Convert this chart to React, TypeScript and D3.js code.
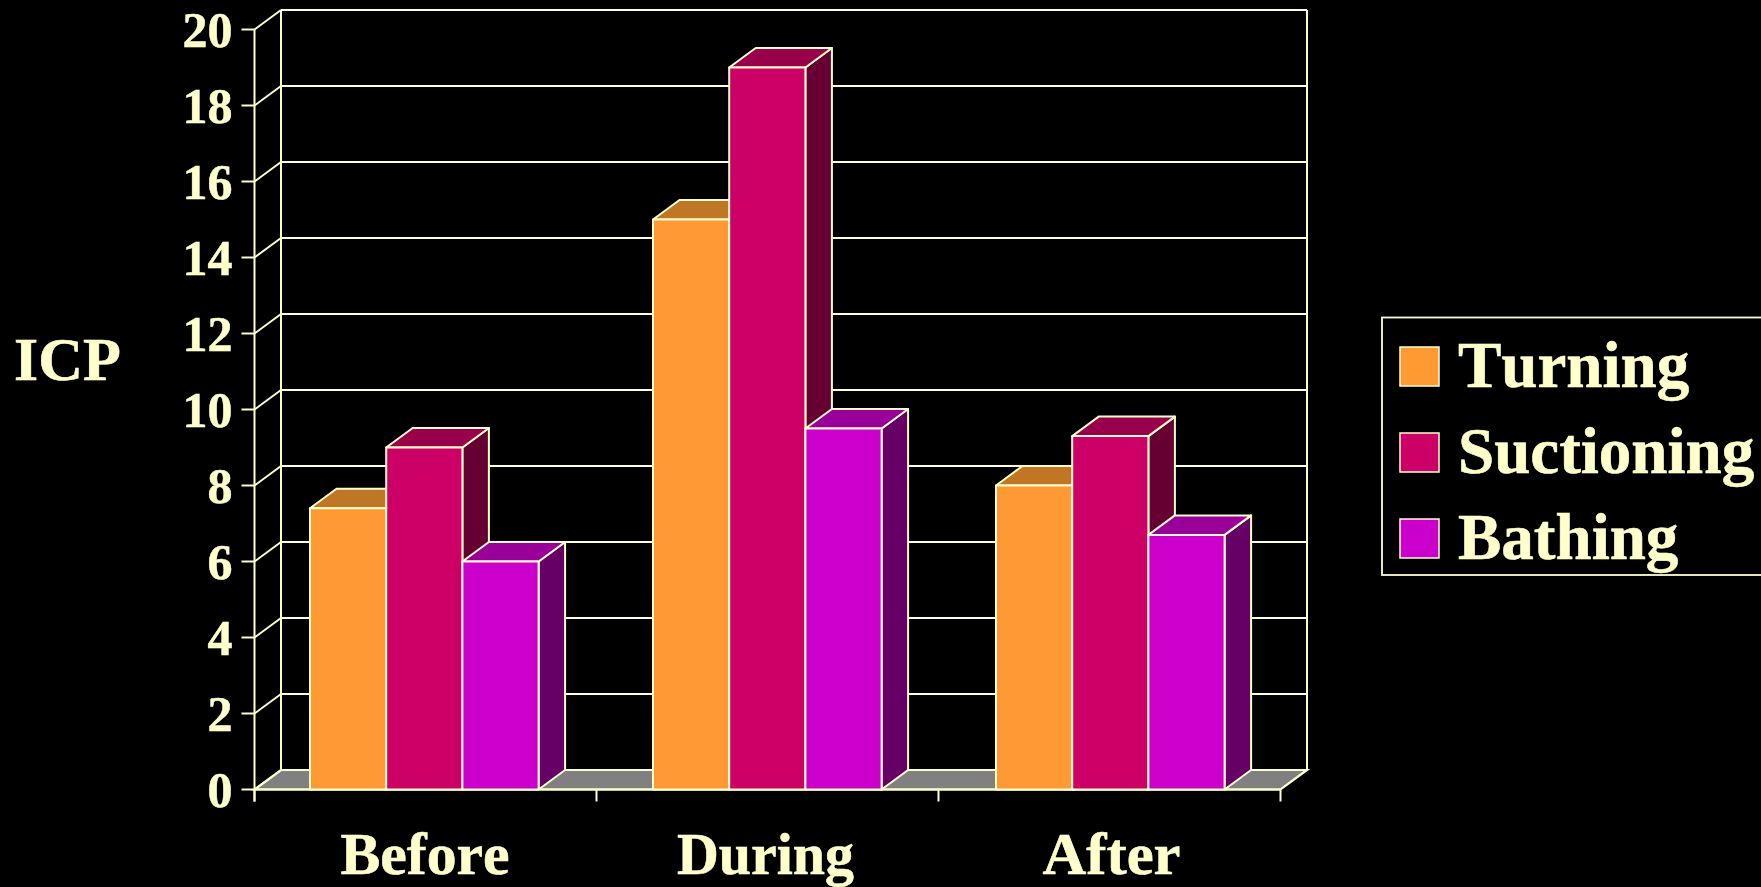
import React from "react";
import * as d3 from "d3";

const categories = ["Before", "During", "After"];
const seriesNames = ["Turning", "Suctioning", "Bathing"];
const turning = [7.4, 15, 8];
const suctioning = [9, 19, 9.3];
const bathing = [6, 9.5, 6.7];
const yTicks = [0, 2, 4, 6, 8, 10, 12, 14, 16, 18, 20];

const seriesValues = [turning, suctioning, bathing];
const frontColors = ["#FF9933", "#CC0066", "#CC00CC"];
const topColors = ["#BF7726", "#99004C", "#990099"];
const sideColors = ["#7F4C19", "#660033", "#660066"];

// Fitted widths and small horizontal nudges for the category captions
const captionWidths = [169, 177, 138];
const captionNudges = [-0.5, -2, 2];

const INK = "#FFFFCC";
const FONT = "'Liberation Serif', 'Times New Roman', serif";
const DEPTH_X = 26.5;
const DEPTH_Y = -19.5;

const left = 254.5;
const right = 1280.5;
const y = d3.scaleLinear().domain([0, 20]).range([789.5, 29.5]);
// Axis ticks divide the floor evenly; bar groups step very slightly wider
const xAxis = d3.scaleBand<string>().domain(categories).range([left, right]);
const xGroups = d3.scaleBand<string>().domain(categories).range([left, left + 343 * 3]);
const xBars = d3.scaleBand<number>().domain([0, 1, 2]).range([55.5, 55.5 + 228.6]);

const poly = (pts: [number, number][]) => (d3.line()(pts) ?? "") + "Z";

const textStyle: React.CSSProperties = { fontKerning: "none" };

export default function App() {
  const base = y(0);
  const top = y(20);
  const bw = xBars.bandwidth();
  return (
    <svg
      width={1761}
      height={887}
      viewBox="0 0 1761 887"
      style={{ position: "fixed", left: 0, top: 0, background: "#000", display: "block" }}
      fontFamily={FONT}
      fontWeight="bold"
    >
      <rect width={1761} height={887} fill="#000" />

      {/* Floor of the 3D box */}
      <path
        d={poly([
          [left, base],
          [right, base],
          [right + DEPTH_X, base + DEPTH_Y],
          [left + DEPTH_X, base + DEPTH_Y],
        ])}
        fill="#808080"
        stroke={INK}
        strokeWidth={2.2}
      />

      {/* Back wall outline and gridlines with their side-wall connectors */}
      <line x1={left} x2={left} y1={top} y2={base + 12} stroke={INK} strokeWidth={2} />
      <line x1={left + DEPTH_X} x2={left + DEPTH_X} y1={top + DEPTH_Y} y2={base + DEPTH_Y} stroke={INK} strokeWidth={2} />
      <line x1={right + DEPTH_X} x2={right + DEPTH_X} y1={top + DEPTH_Y} y2={base + DEPTH_Y} stroke={INK} strokeWidth={2} />
      {yTicks.map((t) => (
        <g key={t} stroke={INK} strokeWidth={2} fill="none">
          <line x1={left - 13} x2={left} y1={y(t)} y2={y(t)} />
          <line x1={left} x2={left + DEPTH_X} y1={y(t)} y2={y(t) + DEPTH_Y} />
          <line x1={left + DEPTH_X} x2={right + DEPTH_X} y1={y(t) + DEPTH_Y} y2={y(t) + DEPTH_Y} />
        </g>
      ))}

      {/* Category axis with ticks between the groups */}
      <line x1={left} x2={right} y1={base} y2={base} stroke={INK} strokeWidth={2.2} />
      {[...categories.map((c) => xAxis(c) as number), right].map((px, i) => (
        <line key={i} x1={px} x2={px} y1={base} y2={base + 12} stroke={INK} strokeWidth={2} />
      ))}

      {/* Bars, painted left to right so each one overlaps the previous */}
      {categories.map((c, ci) =>
        seriesValues.map((vals, si) => {
          const bx = (xGroups(c) as number) + (xBars(si) as number);
          const ty = y(vals[ci]);
          return (
            <g key={c + si} stroke={INK} strokeWidth={2} strokeLinejoin="round">
              <path
                d={poly([
                  [bx + bw, ty],
                  [bx + bw + DEPTH_X, ty + DEPTH_Y],
                  [bx + bw + DEPTH_X, base + DEPTH_Y],
                  [bx + bw, base],
                ])}
                fill={sideColors[si]}
              />
              <path
                d={poly([
                  [bx, ty],
                  [bx + DEPTH_X, ty + DEPTH_Y],
                  [bx + bw + DEPTH_X, ty + DEPTH_Y],
                  [bx + bw, ty],
                ])}
                fill={topColors[si]}
              />
              <rect x={bx} y={ty} width={bw} height={base - ty} fill={frontColors[si]} />
            </g>
          );
        })
      )}

      {/* Value labels */}
      {yTicks.map((t) => (
        <text
          key={t}
          x={232.5}
          y={y(t) + 17.3}
          textAnchor="end"
          fontSize={50}
          fill={INK}
          stroke={INK}
          strokeWidth={0.5}
          style={textStyle}
        >
          {t}
        </text>
      ))}

      {/* Category labels */}
      {categories.map((c, i) => (
        <text
          key={c}
          x={(xAxis(c) as number) + xAxis.bandwidth() / 2 + captionNudges[i]}
          y={874}
          textAnchor="middle"
          fontSize={60}
          fill={INK}
          stroke={INK}
          strokeWidth={0.6}
          textLength={captionWidths[i]}
          lengthAdjust="spacingAndGlyphs"
          style={textStyle}
        >
          {c}
        </text>
      ))}

      <text x={14} y={379.5} fontSize={62} fill={INK} stroke={INK} strokeWidth={0.6} style={textStyle}>
        ICP
      </text>

      {/* Legend, running off the right edge */}
      <rect x={1382} y={317.5} width={400} height={257.5} fill="none" stroke={INK} strokeWidth={1.8} />
      {seriesNames.map((name, i) => (
        <g key={name}>
          <rect x={1400} y={347 + i * 86} width={39} height={39} fill={frontColors[i]} stroke={INK} strokeWidth={1.5} />
          <text x={1458} y={387 + i * 86} fontSize={65} fill={INK} stroke={INK} strokeWidth={0.6} style={textStyle}>
            {name}
          </text>
        </g>
      ))}
    </svg>
  );
}
